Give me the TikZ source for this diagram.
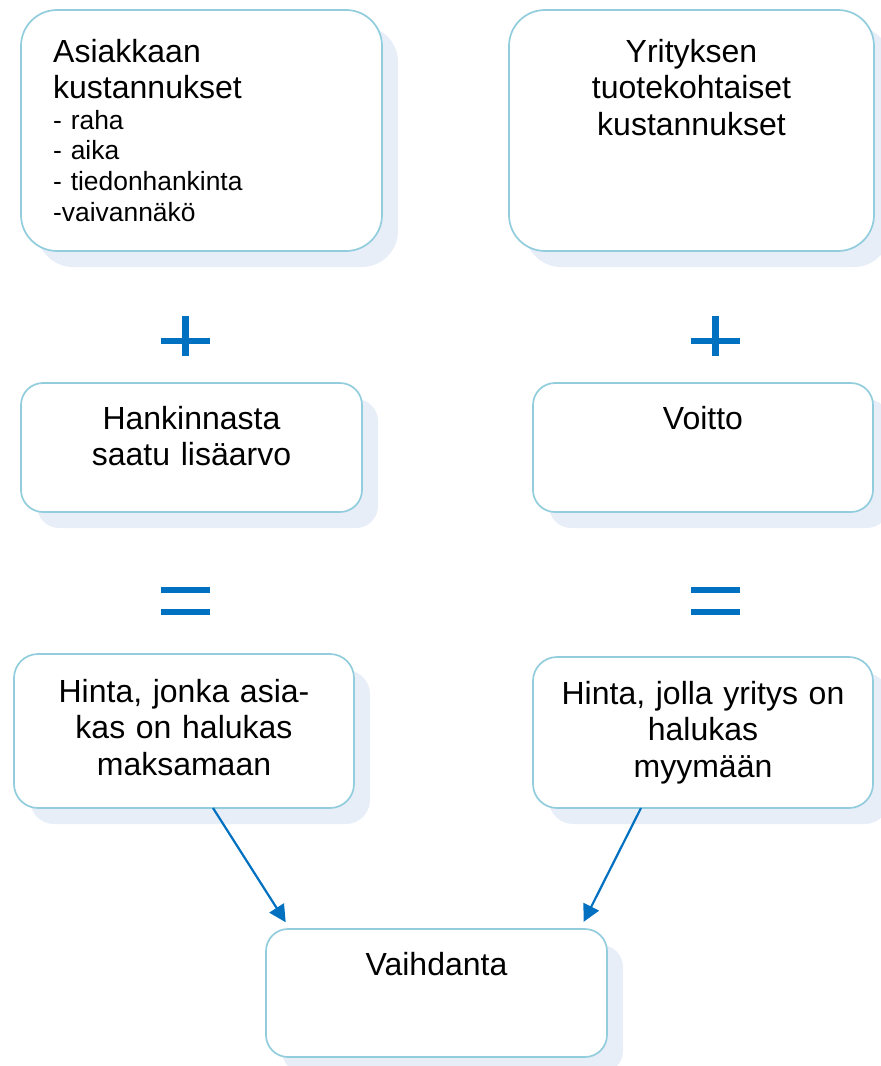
\documentclass[tikz,border=0pt]{standalone}
\usepackage{fontspec}
\setmainfont{Liberation Sans}
\usetikzlibrary{shadows,arrows.meta,calc}
\definecolor{boxline}{RGB}{146,205,221}
\definecolor{boxshade}{RGB}{232,238,247}
\definecolor{signblue}{RGB}{0,112,192}
\tikzset{
  cbox/.style={draw=boxline, line width=1.7pt, fill=white, rounded corners=#1,
    inner sep=0pt, outer sep=0pt, anchor=north west,
    copy shadow={shadow xshift=16pt, shadow yshift=-16pt, draw=none, fill=boxshade}},
  cbox/.default=22pt,
  bigtext/.style={font=\fontsize{32}{36.5}\selectfont, inner sep=0pt, anchor=base,
    align=center, text width=330pt},
  bigleft/.style={font=\fontsize{32}{36.5}\selectfont, inner sep=0pt, anchor=base west,
    align=left, text width=300pt},
  smallleft/.style={font=\fontsize{26.4}{30.8}\selectfont, inner sep=0pt, anchor=base west,
    align=left, text width=300pt},
  flow/.style={draw=signblue, line width=2.2pt, shorten >=8pt,
    -{Triangle[length=17pt,width=17pt]}},
  sign/.style={fill=signblue}
}
\begin{document}
\begin{tikzpicture}[x=1pt, y=-1pt]
\clip (0,0) rectangle (881,1066);

% boxes
\node[cbox=36pt, minimum width=361pt, minimum height=241pt] (b1) at (21,10) {};
\node[cbox=36pt, minimum width=365pt, minimum height=241pt] (b2) at (509,10) {};
\node[cbox=22pt, minimum width=341pt, minimum height=129pt] (b3) at (21,383) {};
\node[cbox=22pt, minimum width=340pt, minimum height=129pt] (b4) at (533,383) {};
\node[cbox=24pt, minimum width=340pt, minimum height=154pt] (b5) at (14,654) {};
\node[cbox=24pt, minimum width=340pt, minimum height=151pt] (b6) at (533,657) {};
\node[cbox=22pt, minimum width=341pt, minimum height=128pt] (b7) at (266,929) {};

% texts
\node[bigleft] (t1) at (53,62) {Asiakkaan\\kustannukset};
\node[smallleft] (t1list) at (53,129) {- raha\\- aika\\- tiedonhankinta\\-vaivannäkö};
\node[bigtext] (t2) at (691.5,62) {Yrityksen\\tuotekohtaiset\\kustannukset};
\node[bigtext] (t3) at (191.5,429) {Hankinnasta\\saatu lisäarvo};
\node[bigtext] (t4) at (703,429) {Voitto};
\node[bigtext] (t5) at (184,702) {Hinta, jonka asia-\\kas on halukas\\maksamaan};
\node[bigtext] (t6) at (703,704) {Hinta, jolla yritys on\\halukas\\myymään};
\node[bigtext] (t7) at (436.5,975) {Vaihdanta};

% plus signs
\fill[sign] (161,338) rectangle (210,344);
\fill[sign] (182.3,316) rectangle (188.5,356);
\fill[sign] (691,338) rectangle (740,344);
\fill[sign] (712.3,316) rectangle (718.7,356);

% equals signs
\fill[sign] (161,587.3) rectangle (210,593.3);
\fill[sign] (161,609.3) rectangle (210,615.3);
\fill[sign] (691,587.3) rectangle (740,593.3);
\fill[sign] (691,609.3) rectangle (740,615.3);

% connectors
\draw[flow] ($(b5.south west)+(199,0)$) -- ($(b7.north west)+(24,0)$);
\draw[flow] ($(b6.south west)+(108,0)$) -- ($(b7.north west)+(314,0)$);
\end{tikzpicture}
\end{document}
